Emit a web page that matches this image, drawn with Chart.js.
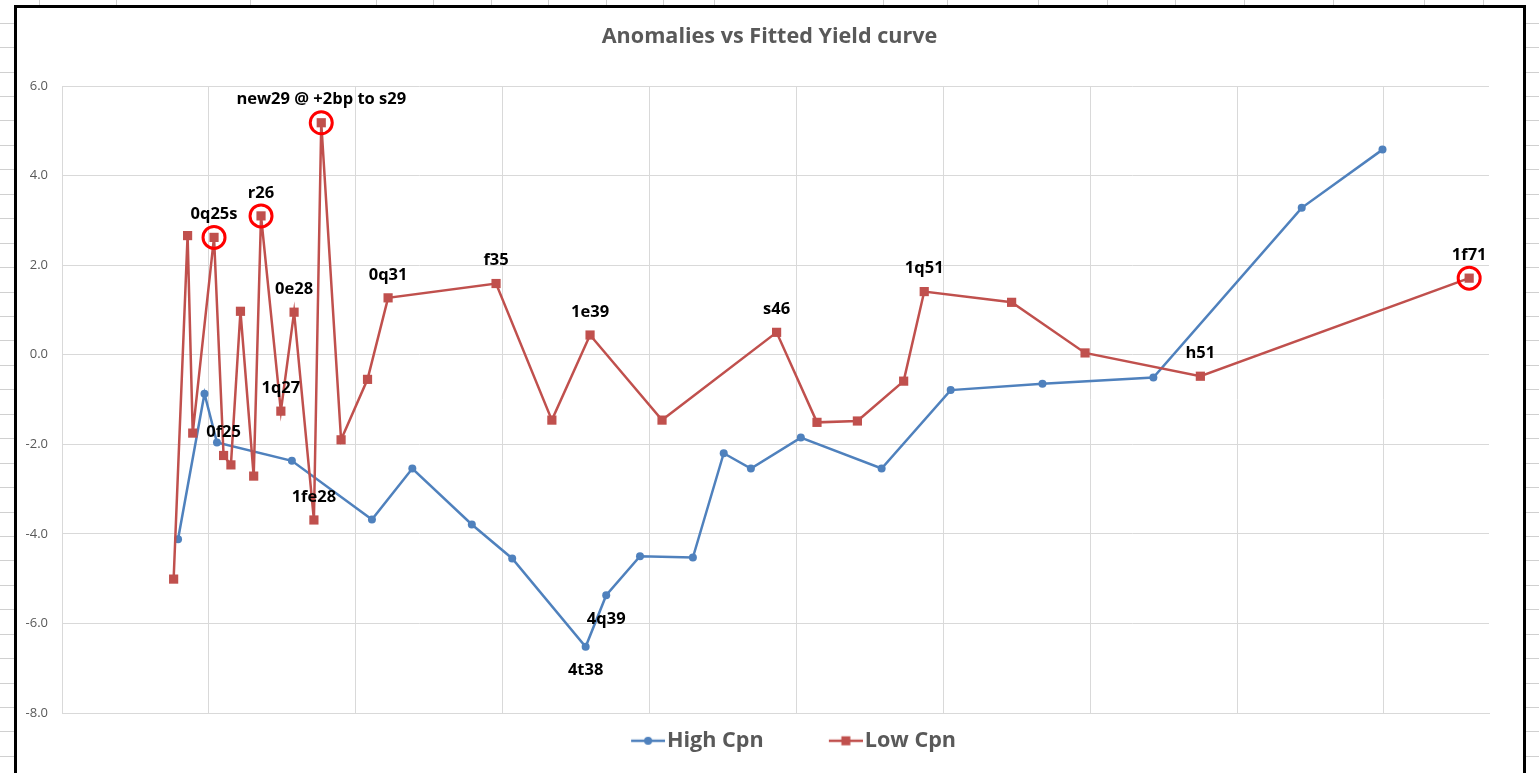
<!DOCTYPE html>
<html>
<head>
<meta charset="utf-8">
<title>Anomalies vs Fitted Yield curve</title>
<script src="https://cdn.jsdelivr.net/npm/chart.js@4.4.1/dist/chart.umd.min.js"></script>
<style>
  html, body { margin: 0; padding: 0; background: #fff; }
  canvas { display: block; }
</style>
</head>
<body>
<canvas id="yieldChart" width="1539" height="773"></canvas>
<script>
// position along the curve (x) and anomaly vs fitted curve (y)
const highCpnX = [1.58, 1.94, 2.11, 3.13, 4.22, 4.77, 5.58, 6.13, 7.13, 7.41, 7.87, 8.59, 9.01, 9.38, 10.06, 11.16, 12.10, 13.35, 14.86, 16.88, 17.98];
const highCpnY = [-4.12, -0.87, -1.96, -2.37, -3.68, -2.54, -3.79, -4.55, -6.52, -5.37, -4.50, -4.53, -2.20, -2.54, -1.85, -2.54, -0.79, -0.65, -0.51, 3.28, 4.58];
const highCpnNames = ['', '', '', '', '', '', '', '', '4t38', '4q39', '', '', '', '', '', '', '', '', '', '', ''];

const lowCpnX = [1.52, 1.71, 1.78, 2.07, 2.20, 2.30, 2.43, 2.61, 2.71, 2.98, 3.16, 3.43, 3.53, 3.80, 4.16, 4.44, 5.91, 6.67, 7.19, 8.17, 9.73, 10.28, 10.83, 11.46, 11.74, 12.93, 13.93, 15.50, 19.16];
const lowCpnY = [-5.01, 2.66, -1.75, 2.62, -2.25, -2.46, 0.97, -2.71, 3.10, -1.26, 0.95, -3.69, 5.18, -1.90, -0.55, 1.27, 1.59, -1.46, 0.44, -1.46, 0.50, -1.51, -1.48, -0.59, 1.41, 1.17, 0.04, -0.48, 1.71];
const lowCpnNames = ['', '', '', '0q25s', '0f25', '', '', '', 'r26', '1q27', '0e28', '1fe28', 'new29 @ +2bp to s29', '', '', '0q31', 'f35', '', '1e39', '', 's46', '', '', '', '1q51', '', '', 'h51', '1f71'];
const circledLow = ['0q25s', 'r26', 'new29 @ +2bp to s29', '1f71'];

const yTicks = [-8, -6, -4, -2, 0, 2, 4, 6];
const xRange = [0, 19.43];

const BLUE = '#4F81BD';
const RED = '#C0504D';
const GREY = '#595959';
const GRID = '#d9d9d9';

/* spreadsheet behind the chart + black frame */
const sheet = {
  id: 'sheet',
  beforeDraw(chart) {
    const ctx = chart.ctx;
    const w = chart.width, h = chart.height;
    ctx.save();
    ctx.fillStyle = '#fff';
    ctx.fillRect(0, 0, w, h);
    ctx.strokeStyle = '#d0d0d0';
    ctx.lineWidth = 1;
    const cols = [39, 116, 250, 376, 433, 491, 548, 606, 663, 714, 883, 947, 1038, 1107, 1175, 1244, 1333, 1424, 1483];
    cols.forEach(x => {
      ctx.beginPath();
      ctx.moveTo(x + 0.5, 0);
      ctx.lineTo(x + 0.5, 5);
      ctx.stroke();
    });
    for (let k = 0; k <= 30; k++) {
      const y = Math.round(22.7 + 24.44 * k) + 0.5;
      ctx.beginPath();
      ctx.moveTo(0, y); ctx.lineTo(14, y);
      ctx.moveTo(1526, y); ctx.lineTo(w, y);
      ctx.stroke();
    }
    ctx.strokeStyle = '#000';
    ctx.lineWidth = 3;
    ctx.beginPath();
    ctx.moveTo(15.5, h);
    ctx.lineTo(15.5, 6.5);
    ctx.lineTo(1524.5, 6.5);
    ctx.lineTo(1524.5, h);
    ctx.stroke();
    ctx.restore();
  }
};

/* bond names next to the points, red rings on the circled ones */
const pointNotes = {
  id: 'pointNotes',
  afterDatasetsDraw(chart) {
    const ctx = chart.ctx;
    ctx.save();
    chart.data.datasets.forEach((ds, i) => {
      const meta = chart.getDatasetMeta(i);
      meta.data.forEach((pt, j) => {
        const name = ds.names[j];
        if (!name) return;
        if (ds.circled && ds.circled.includes(name)) {
          ctx.strokeStyle = '#ff0000';
          ctx.lineWidth = 3;
          ctx.beginPath();
          ctx.arc(pt.x, pt.y, 11, 0, Math.PI * 2);
          ctx.stroke();
        }
        ctx.font = 'bold 16.5px "Open Sans"';
        ctx.fillStyle = '#000';
        ctx.textAlign = 'center';
        ctx.textBaseline = 'middle';
        ctx.fillText(name, pt.x, pt.y + ds.noteOffset);
      });
    });
    ctx.restore();
  }
};

// legend symbol: short line with the marker in the middle (drawn at the right end of the image)
function legendIcon(color, marker) {
  const c = document.createElement('canvas');
  c.width = 91;
  c.height = 14;
  const g = c.getContext('2d');
  const x0 = c.width - 34, mid = c.width - 17;
  g.strokeStyle = color;
  g.lineWidth = 2.5;
  g.beginPath();
  g.moveTo(x0, 7);
  g.lineTo(c.width, 7);
  g.stroke();
  g.fillStyle = color;
  if (marker === 'circle') {
    g.beginPath();
    g.arc(mid, 7, 4, 0, Math.PI * 2);
    g.fill();
  } else {
    g.fillRect(mid - 4.5, 2.5, 9, 9);
  }
  return c;
}
const icons = [legendIcon(BLUE, 'circle'), legendIcon(RED, 'rect')];

const ctx = document.getElementById('yieldChart').getContext('2d');
new Chart(ctx, {
  type: 'scatter',
  data: {
    datasets: [{
      label: 'High Cpn',
      data: highCpnX.map((x, i) => ({ x: x, y: highCpnY[i] })),
      names: highCpnNames,
      noteOffset: 24,
      showLine: true,
      borderColor: BLUE,
      backgroundColor: BLUE,
      borderWidth: 2.5,
      pointStyle: 'circle',
      pointRadius: 4,
      pointBorderWidth: 0,
      pointBackgroundColor: BLUE,
      order: 1
    }, {
      label: 'Low Cpn',
      data: lowCpnX.map((x, i) => ({ x: x, y: lowCpnY[i] })),
      names: lowCpnNames,
      circled: circledLow,
      noteOffset: -23,
      showLine: true,
      borderColor: RED,
      backgroundColor: RED,
      borderWidth: 2.5,
      pointStyle: 'rect',
      pointRadius: 6.5,
      pointBorderWidth: 0,
      pointBackgroundColor: RED,
      order: 0
    }]
  },
  options: {
    responsive: false,
    animation: false,
    events: [],
    layout: { padding: { top: 10, left: 0, right: 0, bottom: 11.4 } },
    scales: {
      x: {
        type: 'linear',
        min: xRange[0],
        max: xRange[1],
        ticks: { display: false, stepSize: 2, includeBounds: false },
        grid: { color: GRID, lineWidth: 1, drawTicks: false },
        border: { color: GRID }
      },
      y: {
        min: yTicks[0],
        max: yTicks[yTicks.length - 1],
        ticks: {
          stepSize: 2,
          padding: 14,
          color: GREY,
          font: { family: 'Open Sans', size: 13 },
          callback: v => v.toFixed(1)
        },
        grid: { color: GRID, lineWidth: 1, drawTicks: false },
        border: { color: GRID },
        afterFit(axis) { axis.width = 62; }
      },
      // empty right margin so the title and legend stay centred on the frame
      yRight: {
        type: 'linear',
        position: 'right',
        ticks: { display: false },
        grid: { display: false, drawTicks: false },
        border: { display: false },
        afterFit(axis) { axis.width = 50; }
      }
    },
    plugins: {
      tooltip: { enabled: false },
      title: {
        display: true,
        text: 'Anomalies vs Fitted Yield curve',
        color: GREY,
        font: { family: 'Open Sans', size: 21.6, weight: 'bold' },
        padding: { top: 13.5, bottom: 36.6 }
      },
      legend: {
        position: 'bottom',
        labels: {
          color: GREY,
          font: { family: 'Open Sans', size: 21.6, weight: 'bold' },
          usePointStyle: true,
          pointStyleWidth: 73.2,
          padding: 17,
          generateLabels(chart) {
            const items = Chart.defaults.plugins.legend.labels.generateLabels(chart);
            items.sort((a, b) => a.datasetIndex - b.datasetIndex);
            items.forEach(it => { it.pointStyle = icons[it.datasetIndex]; });
            return items;
          }
        }
      }
    }
  },
  plugins: [sheet, pointNotes]
});
</script>
</body>
</html>
